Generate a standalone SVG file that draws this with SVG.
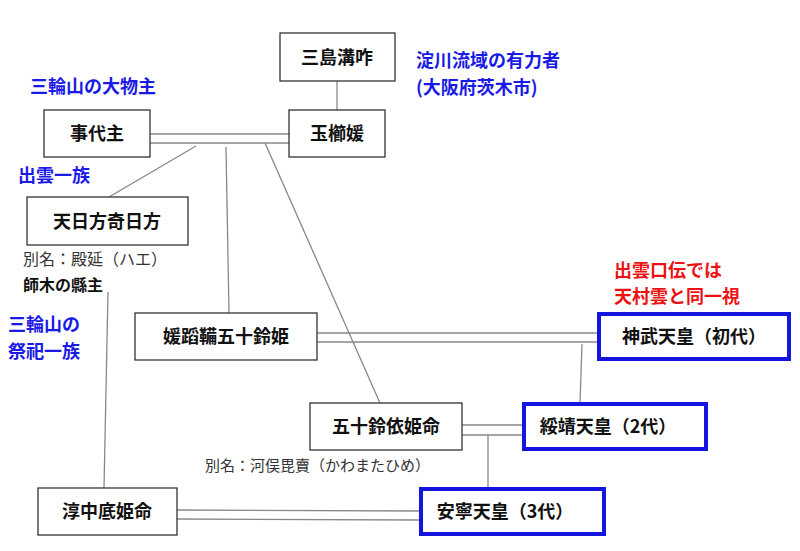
<svg xmlns="http://www.w3.org/2000/svg" width="800" height="551" viewBox="0 0 800 551">
<style>
text{font-family:"Noto Sans CJK JP","Noto Sans",sans-serif}
.n rect{fill:#fff;stroke:#333;stroke-width:1.3}
.n.b rect{stroke:#1515e0;stroke-width:4}
.n text{font-size:18px;font-weight:bold;fill:#111;text-anchor:middle}
.c line{stroke:#888;stroke-width:1.3}
.bl{fill:#1a1ae6;font-size:18px;font-weight:bold}
.rd{fill:#ee1111;font-size:18px;font-weight:bold}
.al{fill:#333;font-size:16px}
</style>
<rect width="800" height="551" fill="#fff"/>
<g class="c">
<line x1="337" y1="81" x2="337" y2="110"/>
<line x1="150" y1="134" x2="289" y2="134"/>
<line x1="150" y1="143" x2="289" y2="143"/>
<line x1="196" y1="146" x2="109" y2="197"/>
<line x1="226" y1="147" x2="229" y2="313"/>
<line x1="265" y1="143" x2="380" y2="403"/>
<line x1="108" y1="292" x2="104" y2="488"/>
<line x1="317" y1="333" x2="598" y2="333"/>
<line x1="317" y1="342" x2="598" y2="342"/>
<line x1="582" y1="344" x2="580" y2="403"/>
<line x1="462" y1="425" x2="523" y2="425"/>
<line x1="462" y1="435" x2="523" y2="435"/>
<line x1="488" y1="435" x2="488" y2="488"/>
<line x1="177" y1="510" x2="420" y2="511"/>
<line x1="177" y1="519" x2="420" y2="520"/>
</g>
<g id="mishima" class="n"><rect x="280" y="33" width="115" height="48"/><text x="337" y="64">三島溝咋</text></g>
<g id="kotoshiro" class="n"><rect x="44" y="110" width="106" height="47"/><text x="97" y="140">事代主</text></g>
<g id="tamakushi" class="n"><rect x="289" y="110" width="96" height="47"/><text x="337" y="140">玉櫛媛</text></g>
<g id="amehikata" class="n"><rect x="27" y="197" width="161" height="48"/><text x="107" y="228">天日方奇日方</text></g>
<g id="himetatara" class="n"><rect x="135" y="313" width="182" height="47"/><text x="226" y="343">媛蹈鞴五十鈴姫</text></g>
<g id="jimmu" class="n b"><rect x="599" y="314" width="190" height="45"/><text x="694" y="343">神武天皇（初代）</text></g>
<g id="isuzuyori" class="n"><rect x="310" y="403" width="152" height="47"/><text x="386" y="433">五十鈴依姫命</text></g>
<g id="suizei" class="n b"><rect x="524" y="404" width="182" height="45"/><text x="608" y="433">綏靖天皇（2代）</text></g>
<g id="nunasoko" class="n"><rect x="38" y="488" width="139" height="47"/><text x="107" y="518">淳中底姫命</text></g>
<g id="annei" class="n b"><rect x="421" y="489" width="183" height="45"/><text x="505" y="518">安寧天皇（3代）</text></g>
<text class="bl" x="30" y="93">三輪山の大物主</text>
<text class="bl" x="18" y="182">出雲一族</text>
<text class="al" x="23" y="265">別名：殿延（ハエ）</text>
<text x="23" y="291" style="font-size:16px;font-weight:bold;fill:#111">師木の縣主</text>
<text class="bl" x="8" y="331">三輪山の</text>
<text class="bl" x="8" y="358">祭祀一族</text>
<text class="bl" x="416" y="67">淀川流域の有力者</text>
<text class="bl" x="416" y="94">(大阪府茨木市)</text>
<text class="rd" x="614" y="277">出雲口伝では</text>
<text class="rd" x="614" y="303">天村雲と同一視</text>
<text class="al" x="205" y="471" style="font-size:15px">別名：河俣毘賣（かわまたひめ）</text>
</svg>
